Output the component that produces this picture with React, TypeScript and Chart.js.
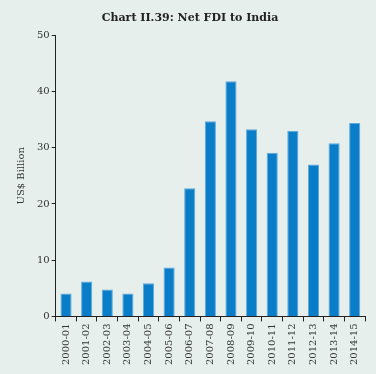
import React, { useEffect, useRef } from "react";
import { Chart, registerables } from "chart.js";

Chart.register(...registerables);

const categories = [
  "2000-01", "2001-02", "2002-03", "2003-04", "2004-05", "2005-06", "2006-07",
  "2007-08", "2008-09", "2009-10", "2010-11", "2011-12", "2012-13", "2013-14", "2014-15",
];
const netFdi = [4.1, 6.2, 4.8, 4.1, 5.9, 8.7, 22.8, 34.7, 41.8, 33.3, 29.1, 33.0, 27.0, 30.8, 34.4];
const yTicks = [0, 10, 20, 30, 40, 50];

const FONT = "'DejaVu Serif', serif";

export default function App() {
  const ref = useRef<HTMLCanvasElement | null>(null);
  useEffect(() => {
    if (!ref.current) return;
    const chart = new Chart(ref.current, {
      type: "bar",
      data: {
        labels: categories,
        datasets: [
          {
            data: netFdi,
            backgroundColor: "#0a7dc8",
            borderColor: "#5fa9dc",
            borderWidth: 1,
            barPercentage: 0.54,
            categoryPercentage: 1,
          },
        ],
      },
      options: {
        animation: false,
        responsive: false,
        maintainAspectRatio: false,
        layout: { padding: { left: 15, right: 11, top: 6, bottom: 7 } },
        plugins: {
          legend: { display: false },
          tooltip: { enabled: false },
          title: {
            display: true,
            text: "Chart II.39: Net FDI to India",
            color: "#222",
            font: { family: FONT, size: 11, weight: "bold" },
            padding: { top: 6, bottom: 10 },
          },
        },
        scales: {
          x: {
            grid: { display: true, drawOnChartArea: false, color: "#222", tickLength: 5, offset: true },
            border: { display: true, color: "#222", width: 1 },
            ticks: {
              color: "#333",
              font: { family: FONT, size: 10 },
              maxRotation: 90,
              minRotation: 90,
              autoSkip: false,
              padding: 2,
            },
          },
          y: {
            min: 0,
            max: 50,
            afterBuildTicks: (axis: any) => {
              axis.ticks = yTicks.map((v) => ({ value: v }));
            },
            grid: { display: true, drawOnChartArea: false, color: "#222", tickLength: 4 },
            border: { display: true, color: "#222", width: 1 },
            ticks: { color: "#333", font: { family: FONT, size: 10 }, padding: 2 },
            title: {
              display: true,
              text: "US$ Billion",
              color: "#333",
              font: { family: FONT, size: 10 },
              padding: { top: 0, bottom: 8 },
            },
          },
        },
      },
    });
    return () => chart.destroy();
  }, []);
  return (
    <div
      style={{
        position: "fixed",
        left: 0,
        top: 0,
        width: 376,
        height: 374,
        background: "#e6efec",
      }}
    >
      <canvas ref={ref} width={376} height={374} style={{ width: 376, height: 374 }} />
    </div>
  );
}
